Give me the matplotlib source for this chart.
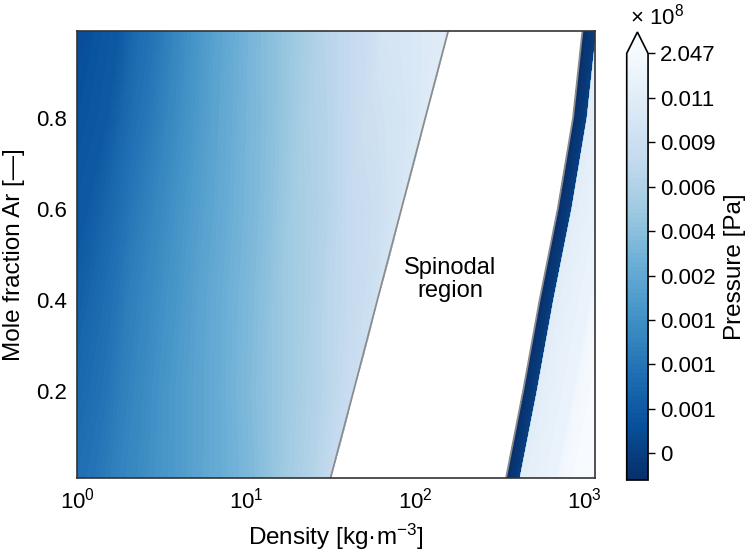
import numpy as np
import matplotlib
matplotlib.use('Agg')
import matplotlib.pyplot as plt
from matplotlib.colors import BoundaryNorm
from matplotlib.ticker import FuncFormatter

plt.rcParams['font.family'] = ['Liberation Sans', 'DejaVu Sans']
plt.rcParams['mathtext.fontset'] = 'custom'
plt.rcParams['mathtext.rm'] = 'Liberation Sans'
plt.rcParams['mathtext.it'] = 'Liberation Sans:italic'

# mole fraction rows (same for both branches)
mole_frac = [0.01, 0.2, 0.4, 0.6, 0.8, 0.99]

# spinodal densities [kg/m3]
rho_spin_gas = [31.6, 43.2, 59.8, 83.0, 115.0, 157.0]
rho_spin_liq = [345.0, 435.0, 545.0, 698.0, 860.0, 977.0]

# gas branch: pressure [bar] at fractions of the (log) way from 1 kg/m3 up to the spinodal
gas_frac = [0, 1/6, 2/6, 3/6, 4/6, 5/6, 1]
p_gas_bar = [
    [0.90, 1.18, 1.53, 2.10, 3.07, 5.00, 7.55],
    [0.78, 1.14, 1.60, 2.32, 3.80, 5.73, 8.47],
    [0.66, 1.10, 1.60, 2.59, 4.36, 6.73, 9.23],
    [0.52, 1.02, 1.60, 2.74, 5.00, 7.55, 9.93],
    [0.34, 0.92, 1.58, 3.05, 5.73, 8.80, 10.67],
    [0.22, 0.85, 1.62, 3.45, 6.48, 9.71, 11.20],
]

# liquid branch: pressure [bar] vs decades of density above the liquid spinodal
liq_offset = [0.0, 0.04, 0.078, 0.088, 0.15, 0.3, 0.4, 0.7]
p_liq_bar = [-400, -200, -5, 11.5, 25, 150, 2100, 5000]

# colour levels [bar]: labelled ticks and the floor of the scale
cbar_ticks_bar = [0.1, 0.6, 1.0, 1.4, 2.2, 3.8, 6.0, 8.8, 11.2, 2047]
p_floor_bar = -400

levels = [np.linspace(p_floor_bar, cbar_ticks_bar[0], 7)[:-1]]
for a, b in zip(cbar_ticks_bar[:-1], cbar_ticks_bar[1:]):
    levels.append(np.geomspace(a, b, 11)[:-1])
levels.append([cbar_ticks_bar[-1]])
levels = np.concatenate(levels) * 1e5

y = np.array(mole_frac)[:, None]
x_gas = np.array(rho_spin_gas)[:, None] ** np.array(gas_frac)[None, :]
y_gas = np.repeat(y, len(gas_frac), axis=1)
z_gas = np.array(p_gas_bar) * 1e5

x_liq = np.array(rho_spin_liq)[:, None] * 10 ** np.array(liq_offset)[None, :]
y_liq = np.repeat(y, len(liq_offset), axis=1)
z_liq = np.tile(np.array(p_liq_bar, dtype=float), (len(mole_frac), 1)) * 1e5

fig = plt.figure(figsize=(7.56, 5.57), dpi=100)
ax = fig.add_axes([0.1019, 0.1418, 0.6852, 0.8025])
cax = fig.add_axes([0.829, 0.1382, 0.0282, 0.8043])

norm = BoundaryNorm(levels, ncolors=256, extend='max')
cs = ax.contourf(x_gas, y_gas, z_gas, levels=levels, cmap='Blues_r', norm=norm, extend='max')
ax.contourf(x_liq, y_liq, z_liq, levels=levels, cmap='Blues_r', norm=norm, extend='max')

ax.plot(rho_spin_gas, mole_frac, color='#8c8c8c', lw=1.3)
ax.plot(rho_spin_liq, mole_frac, color='#8c8c8c', lw=1.3)

ax.text(161, 0.445, 'Spinodal\nregion', ha='center', va='center', fontsize=17, linespacing=1.1)

ax.set_xscale('log')
ax.set_xlim(1, 1160)
ax.set_ylim(0.01, 0.99)
ax.set_yticks([0.2, 0.4, 0.6, 0.8])
ax.tick_params(which='both', length=0, pad=7, labelsize=16)
ax.set_xlabel('Density [kg·m$^{-3}$]', fontsize=17.5, labelpad=6)
ax.set_ylabel('Mole fraction Ar [—]', fontsize=17.5, labelpad=8)
for s in ax.spines.values():
    s.set_color('#333333')
    s.set_linewidth(1.2)

cbar = fig.colorbar(cs, cax=cax)
cbar.set_ticks(np.array(cbar_ticks_bar) * 1e5)
cbar.ax.minorticks_off()
cbar.ax.yaxis.set_major_formatter(FuncFormatter(lambda v, pos: f'{round(v / 1e8, 3):g}'))
cbar.ax.tick_params(labelsize=16, length=5, width=1)
cbar.set_label('Pressure [Pa]', fontsize=17.5, labelpad=6)
cbar.outline.set_linewidth(1.2)
cbar.ax.annotate(r'$\times\ 10^{8}$', xy=(0, 1), xycoords='axes fraction',
                 xytext=(2, 17), textcoords='offset points', fontsize=16, va='bottom')

fig.savefig('out.png', dpi=100)
